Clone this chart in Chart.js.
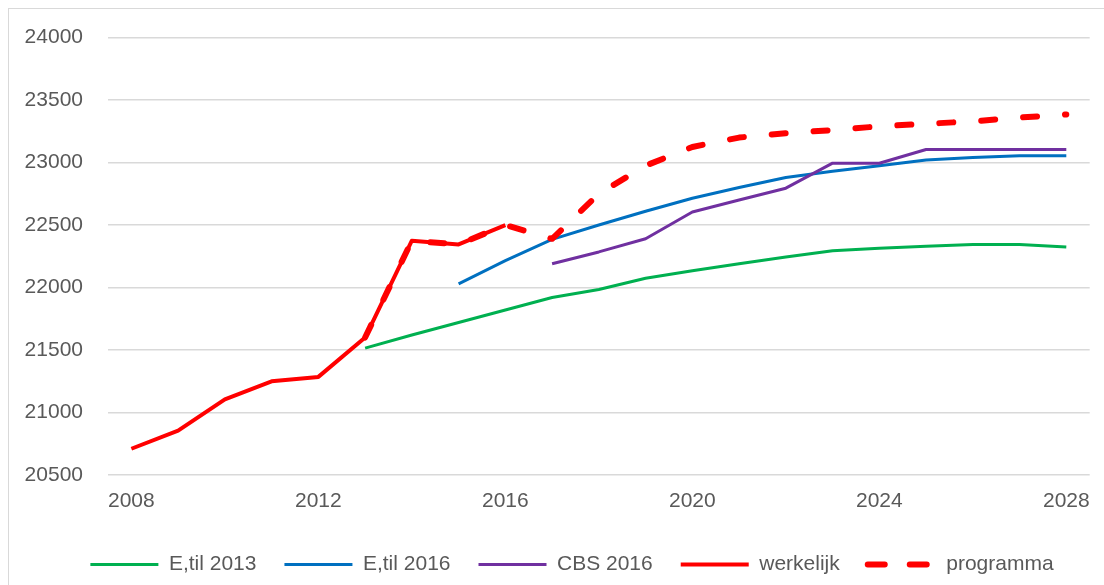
<!DOCTYPE html>
<html>
<head>
<meta charset="utf-8">
<title>Ontwikkeling</title>
<script src="https://cdn.jsdelivr.net/npm/chart.js@4/dist/chart.umd.min.js"></script>
<style>
  body { margin: 0; background: #fff; }
  #kader { position: absolute; left: 8px; top: 8px; width: 1200px; height: 700px; border: 1px solid #d9d9d9; pointer-events: none; }
  #grafiek { position: absolute; left: 0; top: 0; }
</style>
</head>
<body>
<div id="kader"></div>
<canvas id="grafiek" width="1104" height="585"></canvas>
<script>
// Jaren op de x-as
const jaren = ['2008', '2009', '2010', '2011', '2012', '2013', '2014', '2015', '2016', '2017', '2018',
  '2019', '2020', '2021', '2022', '2023', '2024', '2025', '2026', '2027', '2028']

// Waarden per reeks (null = geen waarde in dat jaar)
const eTil2013 = [null, null, null, null, null, 21515, 21620, 21720, 21820, 21920, 21985,
  22075, 22135, 22190, 22245, 22295, 22315, 22330, 22345, 22345, 22325]
const eTil2016 = [null, null, null, null, null, null, null, 22030, 22215, 22385, 22500,
  22610, 22715, 22800, 22880, 22930, 22975, 23020, 23040, 23055, 23055]
const cbs2016 = [null, null, null, null, null, null, null, null, null, 22190, 22285,
  22390, 22605, 22700, 22795, 22995, 22995, 23105, 23105, 23105, 23105]
const werkelijk = [20710, 20855, 21105, 21250, 21285, 21600, 22375, 22345, 22500, null, null,
  null, null, null, null, null, null, null, null, null, null]
const programma = [null, null, null, null, null, 21600, 22375, 22345, 22500, 22390, 22750,
  22975, 23125, 23200, 23235, 23260, 23290, 23310, 23330, 23360, 23385]

// Labels die onder de x-as staan
const jaarLabels = ['2008', '2012', '2016', '2020', '2024', '2028']

// Schaal van de y-as
const yMin = 20500
const yMax = 24000
const yStap = 500

const lettertype = "'Liberation Sans', Arial, sans-serif"

function maakReeks(naam, data, kleur, dikte, volgorde, streep) {
  return {
    label: naam,
    data: data,
    borderColor: kleur,
    backgroundColor: kleur,
    borderWidth: dikte,
    borderDash: streep || [],
    borderCapStyle: streep ? 'round' : 'butt',
    borderJoinStyle: 'round',
    pointRadius: 0,
    pointHoverRadius: 0,
    tension: 0,
    fill: false,
    order: volgorde
  }
}

// Legenda iets naar rechts, zoals in het origineel
const legendaVerschuiving = {
  id: 'legendaVerschuiving',
  afterLayout: (chart) => {
    chart.legend.left += 27
    chart.legend.right += 27
  }
}

// Legenda-items met dezelfde streep en dikte als de lijn zelf
function legendaItems(chart) {
  return Chart.defaults.plugins.legend.labels.generateLabels(chart).map(item => {
    const reeks = chart.data.datasets[item.datasetIndex]
    item.lineDash = reeks.borderDash.length ? [17, 25] : []
    item.lineCap = reeks.borderCapStyle
    item.lineWidth = reeks.borderWidth
    item.strokeStyle = reeks.borderColor
    return item
  })
}

window.onload = () => {
  Chart.defaults.color = '#595959'
  Chart.defaults.font.family = lettertype
  Chart.defaults.font.size = 21

  const data = {
    labels: jaren,
    datasets: [
      maakReeks('E,til 2013', eTil2013, '#00b050', 3, 5),
      maakReeks('E,til 2016', eTil2016, '#0070c0', 3, 4),
      maakReeks('CBS 2016', cbs2016, '#7030a0', 3, 3),
      maakReeks('werkelijk', werkelijk, '#ff0000', 4, 2),
      maakReeks('programma', programma, '#ff0000', 6, 1, [14, 28])
    ]
  }

  new Chart(document.getElementById('grafiek'), {
    type: 'line',
    data: data,
    plugins: [legendaVerschuiving],
    options: {
      responsive: false,
      animation: false,
      layout: { padding: { top: 36, left: 0, right: 14, bottom: 0 } },
      plugins: {
        tooltip: { enabled: false },
        legend: {
          position: 'bottom',
          labels: {
            usePointStyle: true,
            pointStyle: 'line',
            pointStyleWidth: 68,
            padding: 28,
            font: { size: 21 },
            generateLabels: legendaItems,
            sort: (a, b) => a.datasetIndex - b.datasetIndex
          }
        }
      },
      scales: {
        x: {
          offset: true,
          grid: { display: false, drawTicks: false },
          border: { display: false },
          ticks: {
            autoSkip: false,
            maxRotation: 0,
            padding: 14,
            callback: function (waarde) {
              const jaar = this.getLabelForValue(waarde)
              return jaarLabels.includes(jaar) ? jaar : ''
            }
          },
          afterFit: (schaal) => { schaal.height = 51 }
        },
        y: {
          min: yMin,
          max: yMax,
          grid: { color: '#d9d9d9', lineWidth: 1.5, drawTicks: false },
          border: { display: false },
          ticks: { stepSize: yStap, padding: 25, callback: (waarde) => String(waarde) },
          afterFit: (schaal) => { schaal.width = 108 }
        }
      }
    }
  })
}
</script>
</body>
</html>
